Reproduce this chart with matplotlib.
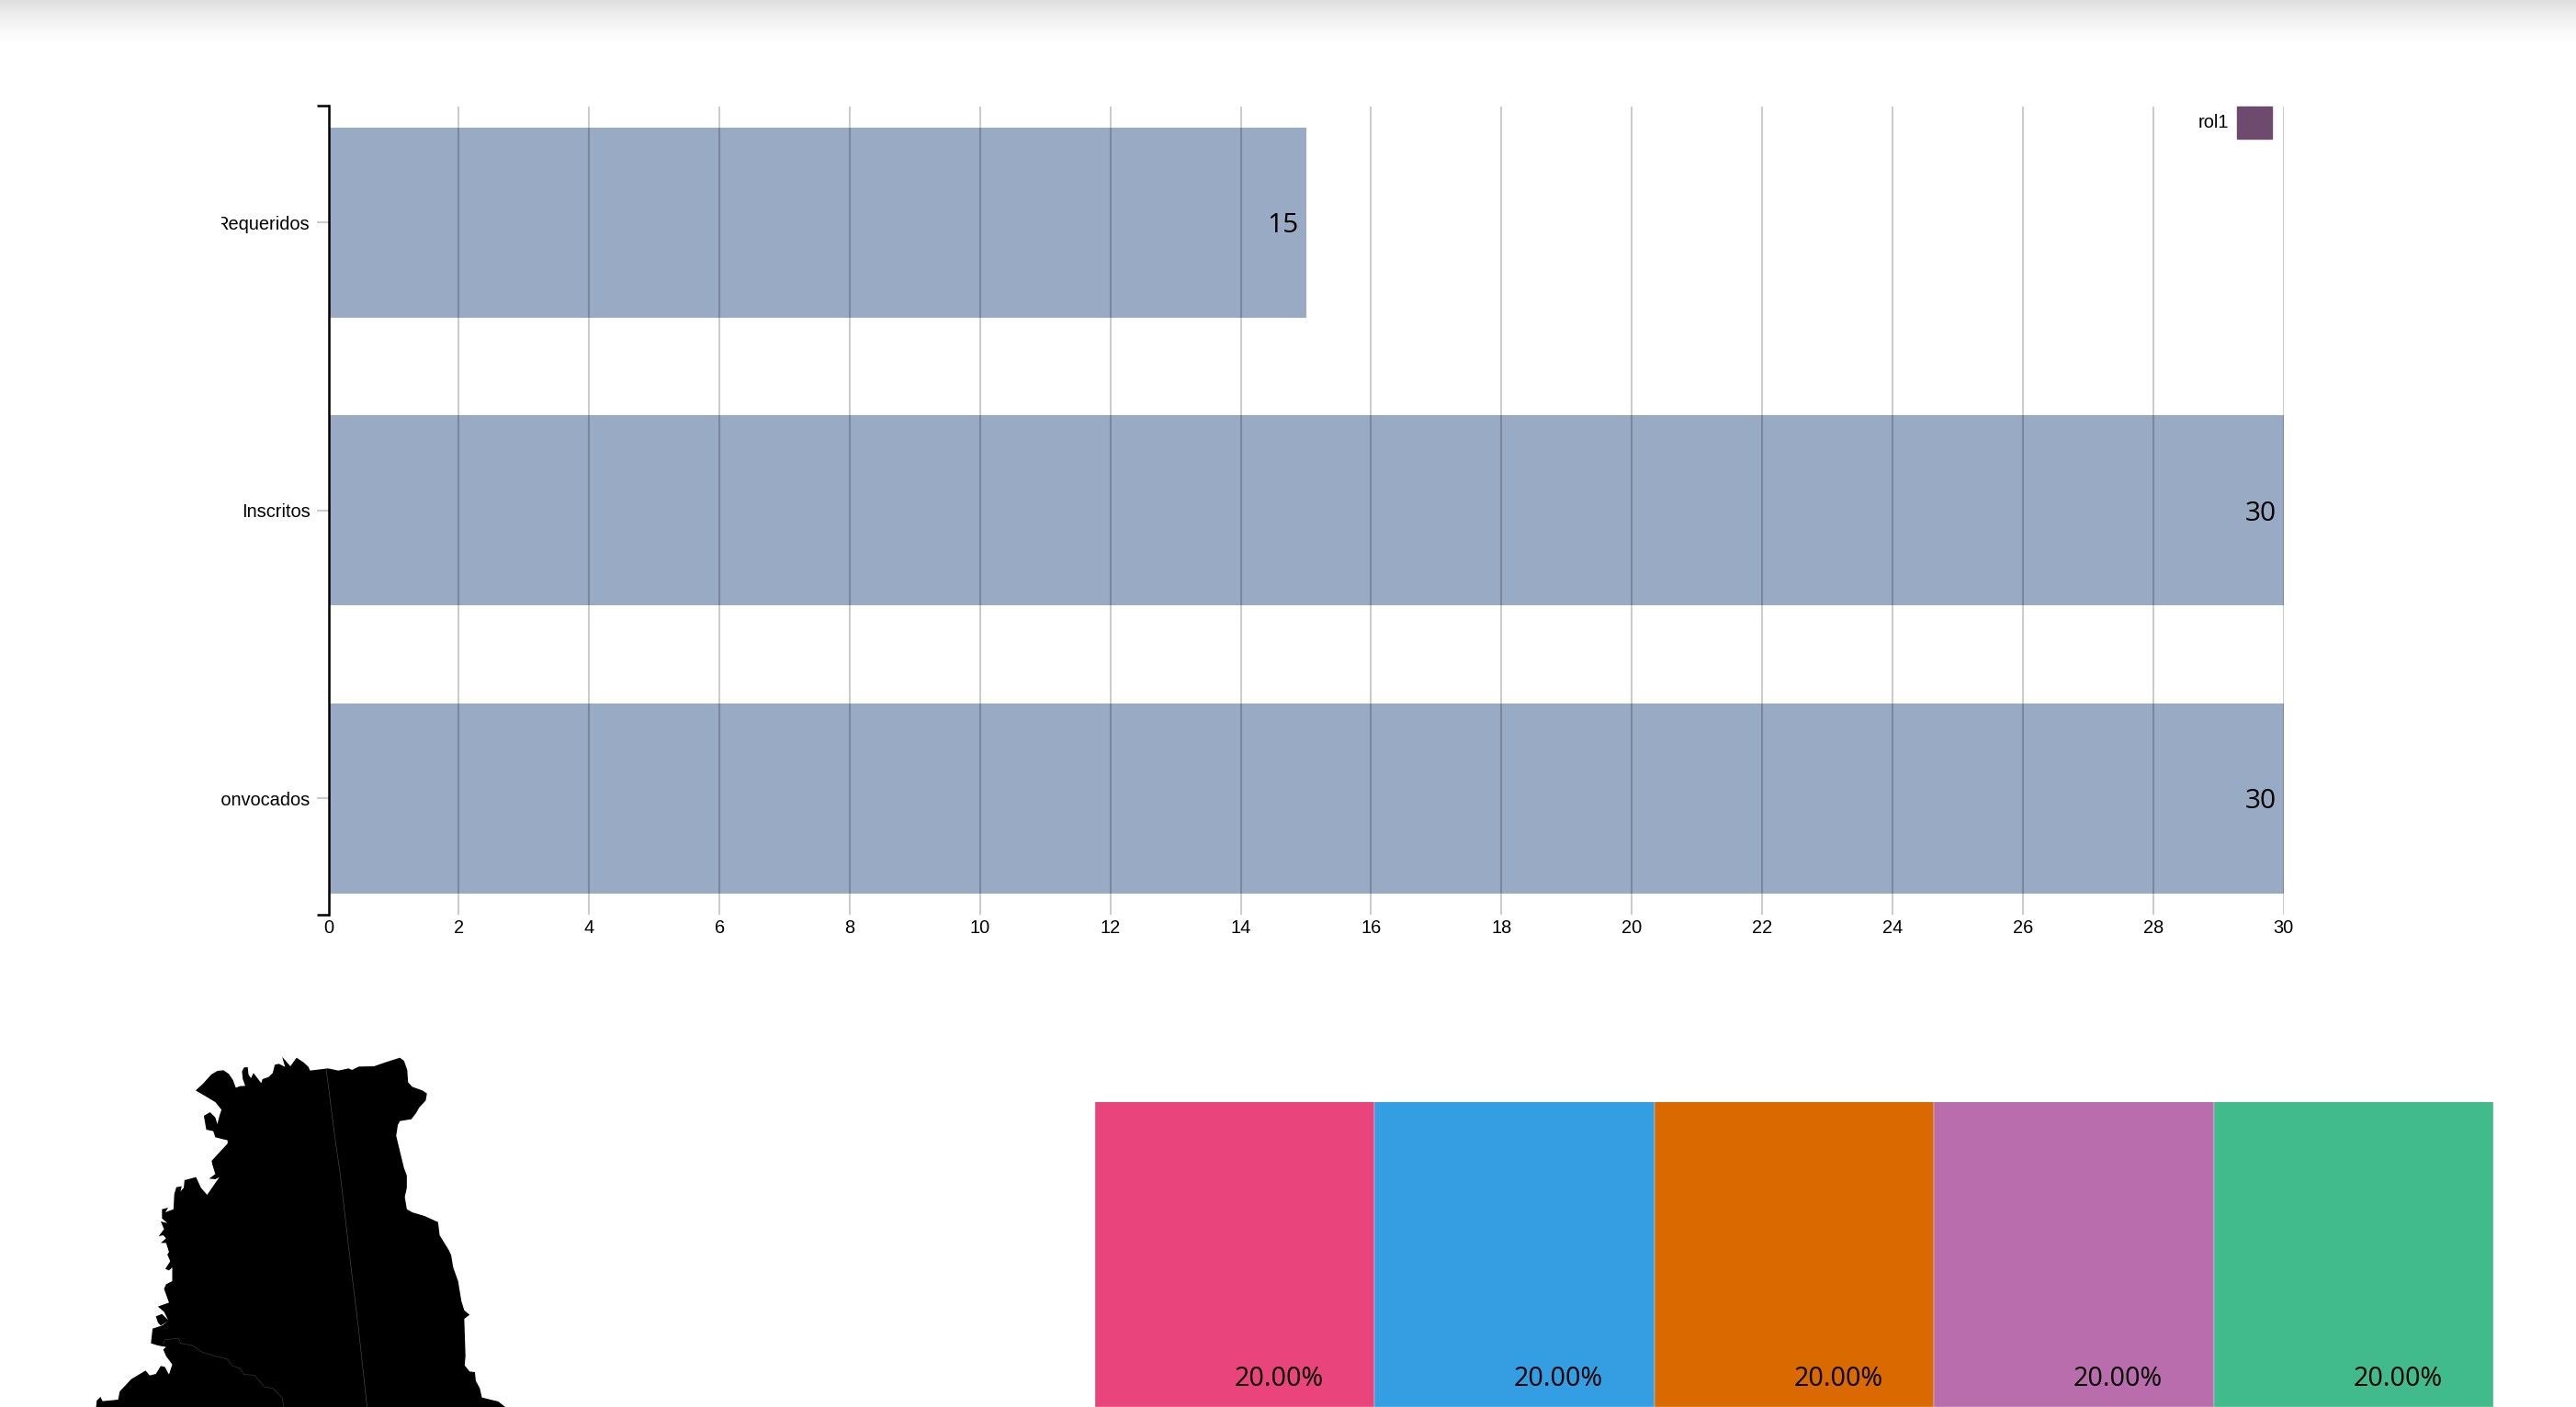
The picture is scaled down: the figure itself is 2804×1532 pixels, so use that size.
import numpy as np
import matplotlib
matplotlib.use("Agg")
import matplotlib.pyplot as plt
from matplotlib.colors import LinearSegmentedColormap
from matplotlib.patches import Patch, Polygon
from matplotlib.transforms import Bbox

# ---- data ----
categories = ["Requeridos", "Inscritos", "Convocados"]
values = [15, 30, 30]
x_ticks = list(range(0, 31, 2))
legend_label = "rol1"
share_values = [20, 20, 20, 20, 20]
share_labels = ["20.00%"] * 5
share_colors = ["#e9457c", "#339ee2", "#da6900", "#ba6dac", "#41bb8c"]

# map outline
map_x = [477,495,515,530,545,558,568,575,585,598,592,590,595,604,606,612,618,637,640,655,665,670,680,695,688,708,723,740,752,756,800,825,850,858,875,912,940,975,985,993,995,1005,1030,1041,1038,1022,1015,1003,975,970,966,975,985,992,992,987,992,1005,1035,1068,1072,1095,1100,1105,1117,1125,1132,1145,1132,1135,1133,1145,1158,1160,1170,1175,1215,1232,1232,233,236,245,250,288,292,320,355,365,380,392,402,412,420,405,398,405,385,368,372,395,410,392,385,380,395,410,400,385,412,400,405,420,420,412,403,415,408,412,405,392,405,398,387,400,392,408,395,395,410,403,423,425,430,443,440,448,450,478,490,505,535,525,510,525,518,516,555,555,525,520,503,497,512,525,530,535,540,525,500]
map_y = [262,240,210,198,196,208,228,253,248,247,225,200,187,186,210,222,205,238,225,218,205,178,175,185,152,183,155,170,185,197,190,197,190,195,184,183,170,155,165,195,235,250,262,272,295,318,335,356,362,375,410,460,515,540,580,610,650,660,672,692,735,785,800,840,885,950,980,995,1008,1130,1160,1180,1182,1210,1235,1265,1278,1296,1310,1310,1275,1263,1277,1272,1245,1205,1177,1193,1188,1162,1165,1190,1157,1130,1108,1100,1095,1088,1040,1030,1015,1030,1020,1000,992,1012,985,968,955,910,895,885,840,850,845,820,798,790,760,760,745,735,738,715,690,695,680,650,645,660,650,600,578,575,592,580,555,545,580,603,545,552,550,535,505,492,435,425,415,395,390,345,333,350,372,345,325,300,280]
border1_x = [795,800,815,830,855,875,895]
border1_y = [190,240,400,540,830,1050,1296]
border2_x = [398,402,435,440,470,490,520,555,565,585,595,620,645,665,688,692]
border2_y = [1090,1077,1071,1088,1095,1115,1128,1140,1160,1170,1190,1192,1230,1235,1265,1296]

W, H = 2804, 1532
plt.rcParams["font.family"] = ["Liberation Sans", "DejaVu Sans"]
fig = plt.figure(figsize=(W / 100, H / 100), dpi=100, facecolor="white")

def axes_px(x0, y0, x1, y1, **kw):
    return fig.add_axes([x0 / W, 1 - y1 / H, (x1 - x0) / W, (y1 - y0) / H], **kw)

# top shadow
axs = axes_px(0, 0, W, 48)
cmap = LinearSegmentedColormap.from_list("s", ["#dfdfdf", "#eeeeee", "#f8f8f8", "#ffffff"])
axs.imshow(np.linspace(0, 1, 48)[:, None], aspect="auto", cmap=cmap)
axs.axis("off")

# bar chart
ax = axes_px(357.5, 115.5, 2485.5, 996)
ypos = np.arange(len(categories))
ax.barh(ypos, values, height=0.66, color="#98aac4", linewidth=0, zorder=1)
ax.set_xlim(0, 30)
lo, hi = 2.404, -0.404
ax.set_ylim(lo, hi)
ax.set_xticks(x_ticks)
ax.set_yticks(ypos)
ax.set_yticklabels(categories)
ax.set_yticks([lo, hi], minor=True)
ax.tick_params(axis="y", which="major", length=9.4, width=1.6, color="#cccccc", pad=5, labelsize=14.4, labelcolor="black")
ax.tick_params(axis="y", which="minor", length=9.4, width=1.8, color="black")
ax.tick_params(axis="x", length=0, pad=3.5, labelsize=14.4, labelcolor="black")
ax.grid(axis="x", color="black", alpha=0.2, linewidth=1.5, zorder=3)
ax.set_axisbelow(False)
for s in ["top", "right", "bottom"]:
    ax.spines[s].set_visible(False)
ax.spines["left"].set_linewidth(1.8)
ax.spines["left"].set_zorder(5)
clip = Bbox([[241, 0], [W, H]])
for t in ax.get_yticklabels():
    t.set_clip_box(clip)
    t.set_clip_on(True)
for y, v in zip(ypos, values):
    ax.annotate(str(v), (v, y), xytext=(-5.8, 0), textcoords="offset points", ha="right", va="center_baseline",
                fontsize=21.5, family=["Open Sans", "DejaVu Sans"], color="black", zorder=6)
ax.legend(handles=[Patch(color="#6e4a6e", label=legend_label)], loc="upper right", bbox_to_anchor=(1 - 13 / 2128, 1),
          frameon=False, markerfirst=False, fontsize=14.4, borderpad=0, borderaxespad=0,
          handlelength=1.9, handleheight=2.35, handletextpad=0.42)

# map
axm = axes_px(0, 1100, 700, 1532)
axm.set_xlim(0, 1568)
axm.set_ylim(1296, 0)
axm.axis("off")
axm.add_patch(Polygon(np.column_stack([map_x, map_y]), closed=True, facecolor="black", edgecolor="none"))
axm.plot(border1_x, border1_y, color="#555555", lw=0.4)
axm.plot(border2_x, border2_y, color="#444444", lw=0.4)

# 100% bar
axb = axes_px(1192, 1200, 2714, 1532)
left = np.concatenate([[0], np.cumsum(share_values)[:-1]])
axb.barh([0] * 5, share_values, left=left, height=2, color=share_colors, edgecolor="#dddddd", linewidth=0.3)
axb.set_xlim(0, 100)
axb.set_ylim(1, 0)
axb.axis("off")
for l, v, s in zip(left, share_values, share_labels):
    axb.annotate(s, (l + v, 34 / 332), xytext=(-40, 0), textcoords="offset points",
                 xycoords=("data", "axes fraction"), ha="right", va="center_baseline", fontsize=20.6,
                 family=["Open Sans", "DejaVu Sans"], color="black")

fig.savefig("out.png", dpi=100)
